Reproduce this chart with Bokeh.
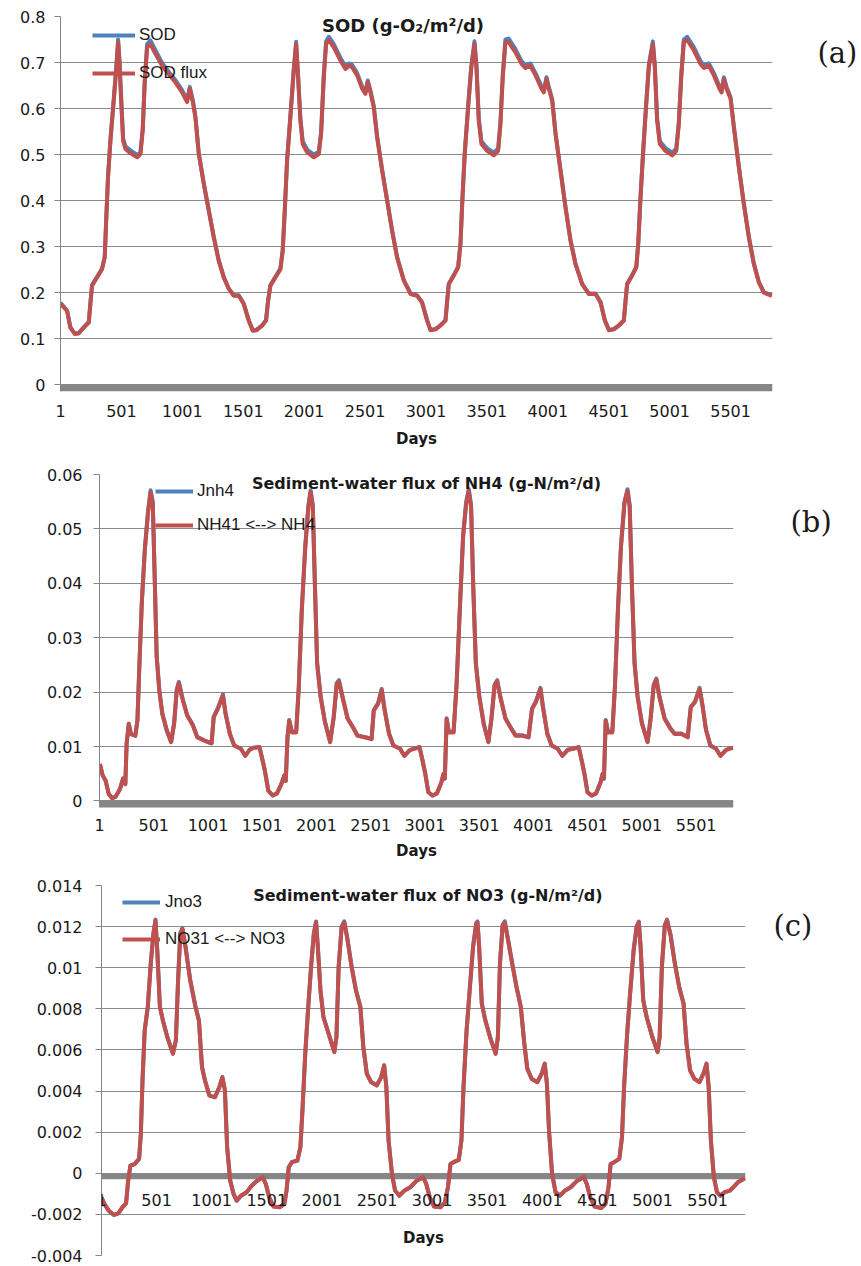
from bokeh.plotting import figure
from bokeh.models import (Range1d, FixedTicker, Legend, LegendItem, Label, LabelSet,
                          BoxAnnotation, ColumnDataSource, LinearAxis)
from bokeh.core.properties import value
from bokeh.embed import file_html
from bokeh.resources import INLINE

# ---------------- data ----------------
day_ticks = [1, 501, 1001, 1501, 2001, 2501, 3001, 3501, 4001, 4501, 5001, 5501]
day_tick_labels = ["1", "501", "1001", "1501", "2001", "2501", "3001", "3501", "4001", "4501", "5001", "5501"]

sod_ticks = [0, 0.1, 0.2, 0.3, 0.4, 0.5, 0.6, 0.7, 0.8]
sod_tick_labels = ["0", "0.1", "0.2", "0.3", "0.4", "0.5", "0.6", "0.7", "0.8"]
nh4_ticks = [0, 0.01, 0.02, 0.03, 0.04, 0.05, 0.06]
nh4_tick_labels = ["0", "0.01", "0.02", "0.03", "0.04", "0.05", "0.06"]
no3_ticks = [-0.004, -0.002, 0, 0.002, 0.004, 0.006, 0.008, 0.01, 0.012, 0.014]
no3_tick_labels = ["-0.004", "-0.002", "0", "0.002", "0.004", "0.006", "0.008", "0.01", "0.012", "0.014"]

# (a) SOD
sod_days = [1, 55, 82, 118, 150, 192, 233, 246, 260, 301,
            342, 364, 375, 391, 411, 438, 460, 474, 485, 498,
            515, 534, 575, 630, 657, 676, 692, 712, 739, 780,
            835, 889, 944, 999, 1040, 1062, 1087, 1108, 1136, 1177,
            1218, 1259, 1300, 1341, 1382, 1423, 1464, 1505, 1546, 1579,
            1610, 1656, 1688, 1705, 1724, 1765, 1806, 1825, 1842, 1861,
            1888, 1916, 1935, 1951, 1970, 1989, 2025, 2080, 2121, 2140,
            2162, 2181, 2203, 2244, 2299, 2340, 2367, 2394, 2436, 2477,
            2504, 2523, 2545, 2572, 2600, 2641, 2682, 2723, 2764, 2819,
            2874, 2928, 2969, 3010, 3038, 3079, 3120, 3161, 3175, 3188,
            3229, 3265, 3284, 3298, 3319, 3347, 3372, 3399, 3415, 3434,
            3456, 3503, 3558, 3593, 3612, 3631, 3653, 3680, 3735, 3785,
            3817, 3858, 3900, 3949, 3968, 3990, 4009, 4037, 4064, 4105,
            4146, 4187, 4228, 4283, 4337, 4392, 4433, 4469, 4502, 4543,
            4584, 4625, 4639, 4652, 4693, 4727, 4743, 4762, 4784, 4809,
            4830, 4863, 4879, 4898, 4920, 4967, 5022, 5055, 5076, 5096,
            5117, 5145, 5200, 5254, 5282, 5323, 5364, 5410, 5427, 5446,
            5468, 5501, 5528, 5569, 5610, 5651, 5692, 5733, 5774, 5840]
sod = [0.178, 0.161, 0.125, 0.111, 0.112, 0.125, 0.136, 0.176, 0.217, 0.234,
       0.252, 0.278, 0.351, 0.453, 0.533, 0.621, 0.695, 0.750, 0.705, 0.628,
       0.535, 0.518, 0.509, 0.499, 0.505, 0.556, 0.659, 0.740, 0.748, 0.727,
       0.699, 0.680, 0.662, 0.640, 0.618, 0.647, 0.618, 0.584, 0.503, 0.438,
       0.379, 0.321, 0.270, 0.234, 0.209, 0.194, 0.194, 0.176, 0.140, 0.118,
       0.119, 0.129, 0.140, 0.183, 0.217, 0.234, 0.252, 0.293, 0.381, 0.490,
       0.585, 0.688, 0.745, 0.673, 0.579, 0.529, 0.511, 0.500, 0.506, 0.549,
       0.673, 0.746, 0.756, 0.740, 0.710, 0.692, 0.698, 0.695, 0.677, 0.648,
       0.636, 0.661, 0.639, 0.606, 0.539, 0.467, 0.401, 0.335, 0.277, 0.227,
       0.198, 0.194, 0.179, 0.140, 0.119, 0.121, 0.129, 0.140, 0.183, 0.219,
       0.238, 0.256, 0.307, 0.395, 0.504, 0.607, 0.691, 0.746, 0.695, 0.579,
       0.529, 0.514, 0.504, 0.513, 0.570, 0.673, 0.750, 0.752, 0.729, 0.703,
       0.694, 0.698, 0.677, 0.648, 0.639, 0.668, 0.647, 0.620, 0.547, 0.467,
       0.386, 0.314, 0.263, 0.219, 0.198, 0.198, 0.180, 0.140, 0.119, 0.121,
       0.129, 0.140, 0.183, 0.219, 0.238, 0.256, 0.307, 0.410, 0.511, 0.614,
       0.695, 0.746, 0.695, 0.579, 0.529, 0.514, 0.504, 0.513, 0.570, 0.673,
       0.750, 0.756, 0.733, 0.703, 0.694, 0.698, 0.677, 0.648, 0.639, 0.668,
       0.647, 0.624, 0.561, 0.474, 0.393, 0.321, 0.263, 0.223, 0.201, 0.194]
sod_flux = [0.176, 0.160, 0.124, 0.110, 0.111, 0.124, 0.135, 0.175, 0.215, 0.233,
            0.251, 0.276, 0.349, 0.450, 0.530, 0.617, 0.690, 0.744, 0.700, 0.624,
            0.530, 0.512, 0.503, 0.494, 0.501, 0.552, 0.654, 0.733, 0.740, 0.719,
            0.693, 0.675, 0.657, 0.635, 0.614, 0.643, 0.614, 0.581, 0.501, 0.436,
            0.378, 0.320, 0.269, 0.233, 0.208, 0.193, 0.193, 0.175, 0.139, 0.117,
            0.118, 0.128, 0.139, 0.182, 0.215, 0.233, 0.251, 0.291, 0.378, 0.487,
            0.581, 0.683, 0.740, 0.668, 0.574, 0.523, 0.505, 0.494, 0.501, 0.545,
            0.668, 0.740, 0.749, 0.733, 0.704, 0.686, 0.693, 0.690, 0.672, 0.643,
            0.632, 0.657, 0.635, 0.603, 0.537, 0.465, 0.400, 0.334, 0.276, 0.226,
            0.197, 0.193, 0.178, 0.139, 0.118, 0.120, 0.128, 0.139, 0.182, 0.218,
            0.237, 0.255, 0.305, 0.392, 0.501, 0.603, 0.686, 0.740, 0.690, 0.574,
            0.523, 0.508, 0.498, 0.508, 0.566, 0.668, 0.744, 0.744, 0.722, 0.697,
            0.688, 0.693, 0.672, 0.643, 0.635, 0.664, 0.643, 0.617, 0.545, 0.465,
            0.385, 0.313, 0.262, 0.218, 0.197, 0.197, 0.179, 0.139, 0.118, 0.120,
            0.128, 0.139, 0.182, 0.218, 0.237, 0.255, 0.305, 0.407, 0.508, 0.610,
            0.690, 0.740, 0.690, 0.574, 0.523, 0.508, 0.498, 0.508, 0.566, 0.668,
            0.744, 0.749, 0.726, 0.697, 0.688, 0.693, 0.672, 0.643, 0.635, 0.664,
            0.643, 0.621, 0.559, 0.472, 0.392, 0.320, 0.262, 0.222, 0.200, 0.193]

# (b) NH4
nh4_days = [5, 30, 58, 86, 118, 150, 190, 218, 239, 251,
            271, 291, 331, 351, 367, 391, 419, 448, 472, 492,
            508, 528, 552, 580, 620, 661, 689, 713, 733, 761,
            809, 861, 902, 970, 1034, 1054, 1091, 1139, 1163, 1203,
            1243, 1304, 1344, 1384, 1424, 1476, 1505, 1525, 1557, 1597,
            1637, 1677, 1705, 1718, 1734, 1750, 1774, 1814, 1838, 1866,
            1898, 1927, 1947, 1967, 1987, 2007, 2039, 2079, 2127, 2160,
            2188, 2208, 2240, 2288, 2340, 2377, 2449, 2509, 2529, 2570,
            2602, 2630, 2670, 2710, 2771, 2811, 2859, 2899, 2951, 2979,
            3004, 3032, 3072, 3112, 3152, 3172, 3184, 3201, 3221, 3265,
            3293, 3325, 3353, 3381, 3405, 3426, 3446, 3470, 3502, 3542,
            3586, 3614, 3643, 3667, 3695, 3743, 3795, 3836, 3896, 3956,
            3988, 4024, 4065, 4089, 4129, 4169, 4225, 4266, 4318, 4366,
            4418, 4446, 4471, 4499, 4539, 4579, 4619, 4639, 4651, 4667,
            4688, 4728, 4752, 4780, 4808, 4840, 4868, 4888, 4909, 4933,
            4961, 5001, 5053, 5081, 5110, 5134, 5162, 5210, 5262, 5302,
            5363, 5423, 5451, 5491, 5532, 5556, 5592, 5632, 5684, 5725,
            5777, 5840]
jnh4 = [0.0068, 0.0047, 0.0037, 0.0013, 0.0005, 0.0008, 0.0022, 0.0041, 0.0031, 0.0105,
        0.0142, 0.0123, 0.0120, 0.0149, 0.0242, 0.0366, 0.0464, 0.0532, 0.0571, 0.0550,
        0.0427, 0.0267, 0.0205, 0.0161, 0.0131, 0.0109, 0.0143, 0.0205, 0.0219, 0.0193,
        0.0158, 0.0140, 0.0118, 0.0111, 0.0106, 0.0155, 0.0170, 0.0196, 0.0161, 0.0123,
        0.0102, 0.0096, 0.0083, 0.0094, 0.0098, 0.0099, 0.0074, 0.0056, 0.0019, 0.0010,
        0.0014, 0.0031, 0.0047, 0.0037, 0.0118, 0.0149, 0.0127, 0.0127, 0.0211, 0.0354,
        0.0470, 0.0544, 0.0571, 0.0544, 0.0396, 0.0254, 0.0193, 0.0146, 0.0109, 0.0155,
        0.0217, 0.0222, 0.0193, 0.0152, 0.0135, 0.0121, 0.0117, 0.0114, 0.0167, 0.0180,
        0.0206, 0.0167, 0.0124, 0.0102, 0.0096, 0.0083, 0.0093, 0.0096, 0.0099, 0.0074,
        0.0050, 0.0016, 0.0010, 0.0014, 0.0034, 0.0050, 0.0041, 0.0152, 0.0127, 0.0127,
        0.0217, 0.0366, 0.0489, 0.0550, 0.0573, 0.0544, 0.0396, 0.0254, 0.0193, 0.0143,
        0.0109, 0.0152, 0.0214, 0.0222, 0.0193, 0.0152, 0.0134, 0.0121, 0.0121, 0.0117,
        0.0170, 0.0183, 0.0208, 0.0173, 0.0124, 0.0102, 0.0096, 0.0083, 0.0094, 0.0096,
        0.0099, 0.0074, 0.0050, 0.0016, 0.0010, 0.0014, 0.0034, 0.0050, 0.0041, 0.0149,
        0.0127, 0.0127, 0.0211, 0.0354, 0.0470, 0.0550, 0.0573, 0.0544, 0.0396, 0.0254,
        0.0193, 0.0143, 0.0109, 0.0152, 0.0214, 0.0225, 0.0193, 0.0152, 0.0134, 0.0124,
        0.0124, 0.0118, 0.0173, 0.0183, 0.0208, 0.0180, 0.0131, 0.0102, 0.0096, 0.0083,
        0.0094, 0.0098]
nh41 = [0.0068, 0.0047, 0.0037, 0.0013, 0.0005, 0.0008, 0.0022, 0.0041, 0.0031, 0.0105,
        0.0142, 0.0123, 0.0120, 0.0148, 0.0240, 0.0363, 0.0461, 0.0529, 0.0568, 0.0547,
        0.0424, 0.0265, 0.0203, 0.0160, 0.0130, 0.0108, 0.0142, 0.0203, 0.0217, 0.0191,
        0.0157, 0.0139, 0.0117, 0.0111, 0.0106, 0.0154, 0.0169, 0.0194, 0.0160, 0.0123,
        0.0102, 0.0096, 0.0083, 0.0094, 0.0098, 0.0099, 0.0074, 0.0056, 0.0019, 0.0010,
        0.0014, 0.0031, 0.0047, 0.0037, 0.0117, 0.0148, 0.0126, 0.0126, 0.0209, 0.0351,
        0.0467, 0.0541, 0.0568, 0.0541, 0.0393, 0.0252, 0.0191, 0.0145, 0.0108, 0.0154,
        0.0215, 0.0220, 0.0191, 0.0151, 0.0134, 0.0120, 0.0117, 0.0114, 0.0166, 0.0179,
        0.0204, 0.0166, 0.0123, 0.0102, 0.0096, 0.0083, 0.0093, 0.0096, 0.0099, 0.0074,
        0.0050, 0.0016, 0.0010, 0.0014, 0.0034, 0.0050, 0.0041, 0.0151, 0.0126, 0.0126,
        0.0215, 0.0363, 0.0486, 0.0547, 0.0570, 0.0541, 0.0393, 0.0252, 0.0191, 0.0142,
        0.0108, 0.0151, 0.0212, 0.0220, 0.0191, 0.0151, 0.0133, 0.0120, 0.0120, 0.0117,
        0.0169, 0.0182, 0.0206, 0.0172, 0.0123, 0.0102, 0.0096, 0.0083, 0.0094, 0.0096,
        0.0099, 0.0074, 0.0050, 0.0016, 0.0010, 0.0014, 0.0034, 0.0050, 0.0041, 0.0148,
        0.0126, 0.0126, 0.0209, 0.0351, 0.0467, 0.0547, 0.0570, 0.0541, 0.0393, 0.0252,
        0.0191, 0.0142, 0.0108, 0.0151, 0.0212, 0.0223, 0.0191, 0.0151, 0.0133, 0.0123,
        0.0123, 0.0117, 0.0172, 0.0182, 0.0206, 0.0179, 0.0130, 0.0102, 0.0096, 0.0083,
        0.0094, 0.0098]

# (c) NO3
no3_days = [1, 27, 66, 114, 153, 192, 224, 243, 263, 302,
            342, 358, 373, 393, 421, 448, 472, 491, 507, 531,
            558, 598, 649, 676, 696, 716, 735, 763, 806, 854,
            885, 913, 940, 980, 1031, 1070, 1098, 1121, 1141, 1169,
            1200, 1228, 1267, 1318, 1365, 1413, 1464, 1492, 1523, 1562,
            1621, 1661, 1680, 1700, 1728, 1779, 1806, 1826, 1850, 1877,
            1905, 1928, 1948, 1964, 1988, 2015, 2062, 2114, 2133, 2153,
            2180, 2204, 2232, 2271, 2310, 2350, 2377, 2409, 2448, 2499,
            2539, 2566, 2586, 2606, 2637, 2665, 2704, 2751, 2803, 2861,
            2920, 2948, 2980, 3019, 3078, 3117, 3145, 3168, 3196, 3243,
            3267, 3286, 3314, 3342, 3373, 3401, 3413, 3428, 3452, 3484,
            3531, 3578, 3598, 3617, 3641, 3661, 3688, 3728, 3767, 3806,
            3838, 3865, 3905, 3956, 3995, 4023, 4043, 4062, 4090, 4121,
            4161, 4208, 4259, 4318, 4377, 4405, 4436, 4476, 4535, 4574,
            4602, 4621, 4653, 4700, 4724, 4743, 4771, 4798, 4830, 4857,
            4877, 4893, 4917, 4948, 4995, 5047, 5066, 5086, 5113, 5133,
            5165, 5204, 5243, 5283, 5310, 5342, 5381, 5428, 5468, 5491,
            5511, 5531, 5558, 5586, 5617, 5657, 5704, 5735, 5775, 5840]
jno3 = [-0.00117, -0.00149, -0.00182, -0.00203, -0.00195, -0.00165, -0.00146, -0.00036, 0.00037, 0.00045,
        0.00070, 0.00191, 0.00452, 0.00696, 0.00810, 0.01022, 0.01168, 0.01234, 0.01087, 0.00810,
        0.00745, 0.00664, 0.00583, 0.00648, 0.00941, 0.01168, 0.01193, 0.01104, 0.00941, 0.00811,
        0.00745, 0.00518, 0.00452, 0.00379, 0.00371, 0.00419, 0.00468, 0.00403, 0.00127, -0.00036,
        -0.00101, -0.00133, -0.00109, -0.00092, -0.00060, -0.00036, -0.00019, -0.00052, -0.00117, -0.00162,
        -0.00165, -0.00149, -0.00084, 0.00029, 0.00054, 0.00062, 0.00127, 0.00322, 0.00583, 0.00810,
        0.01022, 0.01168, 0.01225, 0.01104, 0.00892, 0.00761, 0.00680, 0.00591, 0.00664, 0.01005,
        0.01200, 0.01226, 0.01144, 0.01005, 0.00892, 0.00811, 0.00615, 0.00484, 0.00444, 0.00428,
        0.00468, 0.00526, 0.00419, 0.00159, -0.00003, -0.00084, -0.00109, -0.00084, -0.00068, -0.00036,
        -0.00019, -0.00052, -0.00117, -0.00162, -0.00165, -0.00141, -0.00068, 0.00045, 0.00054, 0.00065,
        0.00159, 0.00419, 0.00696, 0.00892, 0.01104, 0.01217, 0.01225, 0.01104, 0.00827, 0.00745,
        0.00656, 0.00583, 0.00664, 0.01022, 0.01209, 0.01226, 0.01144, 0.01022, 0.00908, 0.00811,
        0.00631, 0.00510, 0.00460, 0.00444, 0.00484, 0.00534, 0.00436, 0.00208, -0.00003, -0.00092,
        -0.00109, -0.00084, -0.00068, -0.00036, -0.00019, -0.00052, -0.00117, -0.00162, -0.00169, -0.00149,
        -0.00068, 0.00045, 0.00054, 0.00070, 0.00175, 0.00419, 0.00680, 0.00876, 0.01087, 0.01200,
        0.01225, 0.01104, 0.00843, 0.00761, 0.00672, 0.00591, 0.00664, 0.01005, 0.01209, 0.01234,
        0.01161, 0.01022, 0.00908, 0.00827, 0.00631, 0.00502, 0.00460, 0.00444, 0.00492, 0.00534,
        0.00419, 0.00159, -0.00019, -0.00092, -0.00109, -0.00092, -0.00084, -0.00068, -0.00044, -0.00024]
no31 = [-0.00117, -0.00149, -0.00182, -0.00203, -0.00195, -0.00165, -0.00146, -0.00036, 0.00037, 0.00045,
        0.00070, 0.00191, 0.00451, 0.00694, 0.00808, 0.01019, 0.01165, 0.01230, 0.01084, 0.00808,
        0.00743, 0.00662, 0.00581, 0.00646, 0.00938, 0.01165, 0.01189, 0.01100, 0.00938, 0.00808,
        0.00743, 0.00516, 0.00451, 0.00378, 0.00370, 0.00418, 0.00467, 0.00402, 0.00127, -0.00036,
        -0.00101, -0.00133, -0.00109, -0.00092, -0.00060, -0.00036, -0.00019, -0.00052, -0.00117, -0.00162,
        -0.00165, -0.00149, -0.00084, 0.00029, 0.00054, 0.00062, 0.00127, 0.00321, 0.00581, 0.00808,
        0.01019, 0.01165, 0.01221, 0.01100, 0.00889, 0.00759, 0.00678, 0.00589, 0.00662, 0.01002,
        0.01197, 0.01221, 0.01140, 0.01002, 0.00889, 0.00808, 0.00613, 0.00483, 0.00443, 0.00427,
        0.00467, 0.00524, 0.00418, 0.00159, -0.00003, -0.00084, -0.00109, -0.00084, -0.00068, -0.00036,
        -0.00019, -0.00052, -0.00117, -0.00162, -0.00165, -0.00141, -0.00068, 0.00045, 0.00054, 0.00065,
        0.00159, 0.00418, 0.00694, 0.00889, 0.01100, 0.01213, 0.01221, 0.01100, 0.00824, 0.00743,
        0.00654, 0.00581, 0.00662, 0.01019, 0.01205, 0.01221, 0.01140, 0.01019, 0.00905, 0.00808,
        0.00629, 0.00508, 0.00459, 0.00443, 0.00483, 0.00532, 0.00435, 0.00208, -0.00003, -0.00092,
        -0.00109, -0.00084, -0.00068, -0.00036, -0.00019, -0.00052, -0.00117, -0.00162, -0.00169, -0.00149,
        -0.00068, 0.00045, 0.00054, 0.00070, 0.00175, 0.00418, 0.00678, 0.00873, 0.01084, 0.01197,
        0.01221, 0.01100, 0.00840, 0.00759, 0.00670, 0.00589, 0.00662, 0.01002, 0.01205, 0.01230,
        0.01157, 0.01019, 0.00905, 0.00824, 0.00629, 0.00500, 0.00459, 0.00443, 0.00491, 0.00532,
        0.00418, 0.00159, -0.00019, -0.00092, -0.00109, -0.00092, -0.00084, -0.00068, -0.00044, -0.00024]

for name, xs, ys in [("sod", sod_days, sod), ("sod_flux", sod_days, sod_flux),
                     ("jnh4", nh4_days, jnh4), ("nh41", nh4_days, nh41),
                     ("jno3", no3_days, jno3), ("no31", no3_days, no31)]:
    if len(xs) != len(ys):
        raise SystemExit(f"length mismatch {name}: {len(xs)} vs {len(ys)}")

# ---------------- style ----------------
BLUE = "#4F81BD"
RED = "#C0504D"
GRID = "#8A8A8A"
BAND = "#868686"
TEXT = "#1A1A1A"
PAGE_W = 861
X_START, X_END = 1, 5845


def make_panel(days, blue, red, blue_name, red_name, title, title_size, tag,
               y_start, y_end, y_ticks, y_labels,
               fig_h, b_top, frame_h, b_left, frame_w, band_px,
               y_standoff, legend_xy, legend_gw, legend_spacing, legend_standoff,
               title_dx, title_dy, tag_dy, tag_standoff, x_axis_inside,
               x_standoff=10, days_standoff=10, inside_tick_dy=27, inside_days_dy=65):
    b_bottom = fig_h - b_top - frame_h
    b_right = PAGE_W - b_left - frame_w
    p = figure(width=PAGE_W, height=fig_h,
               x_range=Range1d(X_START, X_END), y_range=Range1d(y_start, y_end),
               output_backend="svg", toolbar_location=None,
               min_border_left=b_left, min_border_right=b_right,
               min_border_top=b_top, min_border_bottom=b_bottom)
    p.outline_line_color = None
    p.xgrid.visible = False
    p.ygrid.ticker = FixedTicker(ticks=y_ticks)
    p.ygrid.grid_line_color = GRID
    p.ygrid.grid_line_width = 1

    yax = p.yaxis[0]
    yax.ticker = FixedTicker(ticks=y_ticks)
    yax.major_label_overrides = dict(zip(y_ticks, y_labels))
    yax.axis_line_color = BAND
    yax.major_tick_line_color = BAND
    yax.major_tick_out = 6
    yax.major_tick_in = 0
    yax.minor_tick_line_color = None
    yax.major_label_text_font = "DejaVu Sans"
    yax.major_label_text_font_size = "16px"
    yax.major_label_text_color = TEXT
    yax.major_label_standoff = y_standoff

    px_per_unit = frame_h / (y_end - y_start)
    band = BoxAnnotation(top=0, bottom=-band_px / px_per_unit, fill_color=BAND, fill_alpha=1.0,
                         line_color=None, level="underlay")
    p.add_layout(band)

    rb = p.line(days, blue, line_color=BLUE, line_width=4, line_join="round")
    rr = p.line(days, red, line_color=RED, line_width=4, line_join="round")

    xax = p.xaxis[0]
    if not x_axis_inside:
        xax.ticker = FixedTicker(ticks=day_ticks)
        xax.major_label_overrides = dict(zip(day_ticks, day_tick_labels))
        xax.axis_line_color = None
        xax.major_tick_line_color = None
        xax.minor_tick_line_color = None
        xax.major_label_text_font = "DejaVu Sans"
        xax.major_label_text_font_size = "16px"
        xax.major_label_text_color = TEXT
        xax.major_label_standoff = x_standoff
        xax.axis_label = "Days"
        xax.axis_label_text_font = "DejaVu Sans"
        xax.axis_label_text_font_style = "bold"
        xax.axis_label_text_font_size = "15px"
        xax.axis_label_text_color = TEXT
        xax.axis_label_standoff = days_standoff
    else:
        xax.visible = False
        src = ColumnDataSource(dict(x=day_ticks, y=[0] * len(day_ticks), t=day_tick_labels))
        p.add_layout(LabelSet(x="x", y="y", text="t", source=src, y_offset=-inside_tick_dy,
                              text_align="center", text_baseline="middle",
                              text_font=value("DejaVu Sans"), text_font_size=value("16px"),
                              text_color=TEXT))
        p.add_layout(Label(x=(X_START + X_END) / 2, y=0, y_offset=-inside_days_dy, text="Days",
                           text_align="center", text_baseline="middle",
                           text_font="DejaVu Sans", text_font_style="bold",
                           text_font_size="15px", text_color=TEXT))

    legend = Legend(items=[LegendItem(label=value(blue_name), renderers=[rb]),
                           LegendItem(label=value(red_name), renderers=[rr])],
                    location=legend_xy, orientation="vertical",
                    background_fill_alpha=0, border_line_color=None,
                    glyph_width=legend_gw, glyph_height=20, label_height=20,
                    spacing=legend_spacing, padding=0, margin=0,
                    label_standoff=legend_standoff,
                    label_text_font="Liberation Sans", label_text_font_size="17px",
                    label_text_color=TEXT)
    p.add_layout(legend)

    p.add_layout(Label(x=(X_START + X_END) / 2, y=y_end, x_offset=title_dx, y_offset=-title_dy,
                       text=title, text_align="center", text_baseline="middle",
                       text_font="DejaVu Sans", text_font_style="bold",
                       text_font_size=title_size, text_color=TEXT))

    # panel tag "(a)" etc. placed right of the frame through a tick-less right axis
    y_tag = round(y_end - tag_dy / px_per_unit, 6)
    tag_axis = LinearAxis(ticker=FixedTicker(ticks=[y_tag]), major_label_overrides={y_tag: tag},
                          axis_line_color=None, major_tick_line_color=None, minor_tick_line_color=None,
                          major_tick_out=0, major_tick_in=0,
                          major_label_text_font="DejaVu Serif", major_label_text_font_size="29px",
                          major_label_text_color=TEXT, major_label_standoff=tag_standoff)
    p.add_layout(tag_axis, "right")
    return p


pa = make_panel(sod_days, sod, sod_flux, "SOD", "SOD flux", "SOD (g-O\u2082/m\u00b2/d)", "18px", "(a)",
                -0.015, 0.8, sod_ticks, sod_tick_labels,
                fig_h=460, b_top=16, frame_h=375, b_left=60, frame_w=712, band_px=7,
                y_standoff=9, legend_xy=(32, 308), legend_gw=43, legend_spacing=18, legend_standoff=4,
                title_dx=-13.5, title_dy=9, tag_dy=36, tag_standoff=45, x_axis_inside=False,
                x_standoff=7, days_standoff=10)

pb = make_panel(nh4_days, jnh4, nh41, "Jnh4", "NH41 <--> NH4",
                "Sediment-water flux of NH4 (g-N/m\u00b2/d)", "16px", "(b)",
                -0.0012, 0.06, nh4_ticks, nh4_tick_labels,
                fig_h=408, b_top=14, frame_h=333, b_left=99, frame_w=634, band_px=7,
                y_standoff=11, legend_xy=(56, 272), legend_gw=38, legend_spacing=14, legend_standoff=4,
                title_dx=10, title_dy=8.7, tag_dy=47, tag_standoff=57, x_axis_inside=False,
                x_standoff=5, days_standoff=8)

pc = make_panel(no3_days, jno3, no31, "Jno3", "NO31 <--> NO3",
                "Sediment-water flux of NO3 (g-N/m\u00b2/d)", "16px", "(c)",
                -0.004, 0.014, no3_ticks, no3_tick_labels,
                fig_h=397, b_top=17, frame_h=370, b_left=101, frame_w=644, band_px=6,
                y_standoff=13, legend_xy=(21, 306), legend_gw=38, legend_spacing=17, legend_standoff=5,
                title_dx=4.4, title_dy=9.5, tag_dy=40, tag_standoff=28, x_axis_inside=True,
                inside_tick_dy=27, inside_days_dy=65)

open("out.html", "w").write(file_html([pa, pb, pc], INLINE))
